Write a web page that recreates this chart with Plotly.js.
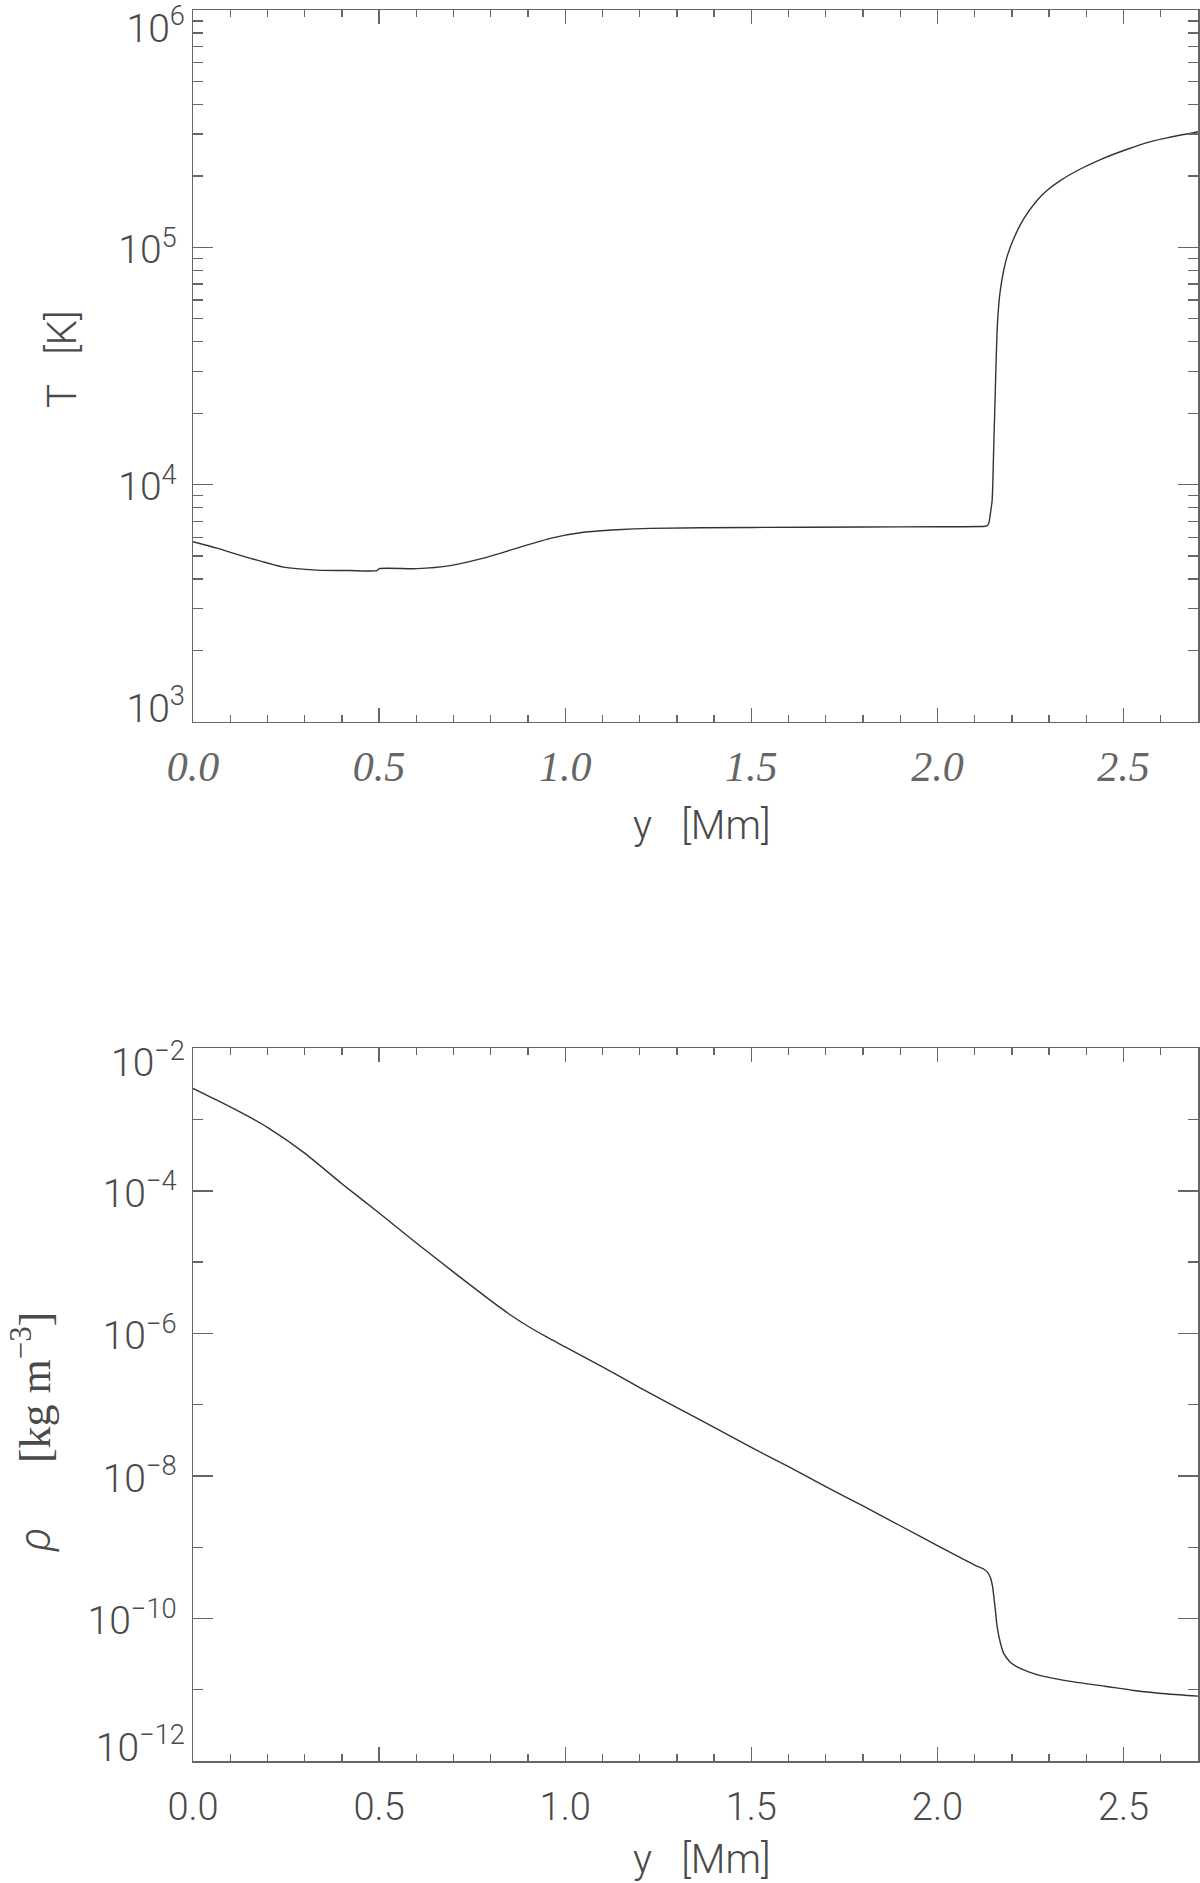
<!DOCTYPE html>
<html>
<head>
<meta charset="utf-8">
<script src="https://cdn.plot.ly/plotly-3.0.1.min.js"></script>
<style>html,body{margin:0;padding:0;background:#fff;}</style>
</head>
<body>
<div id="chart" style="width:1200px;height:1883px;"></div>
<script>
// ---- Data ----
// Temperature profile T(y), y in Mm, T in K
const yT = [0, 0.064, 0.153, 0.243, 0.332, 0.420, 0.494, 0.50, 0.601, 0.691, 0.780, 0.870, 0.960, 1.049, 1.139, 1.228, 1.5, 1.8, 2.0, 2.12, 2.128, 2.134, 2.138, 2.142, 2.147, 2.151, 2.156, 2.160, 2.165, 2.169, 2.178, 2.187, 2.205, 2.232, 2.268, 2.295, 2.331, 2.384, 2.438, 2.510, 2.573, 2.62, 2.70];
const temperature = [5750, 5400, 4900, 4490, 4365, 4345, 4340, 4425, 4425, 4560, 4900, 5400, 5940, 6300, 6455, 6545, 6600, 6630, 6650, 6660, 6680, 6720, 6870, 7500, 8610, 14000, 26700, 43400, 58000, 66100, 80000, 91400, 109000, 132000, 158000, 174000, 191600, 213800, 234400, 259000, 279000, 290000, 307000];

// Density profile rho(y), y in Mm, rho in kg m^-3
const yRho = [0, 0.05, 0.1, 0.15, 0.2, 0.3, 0.4, 0.5, 0.6, 0.7, 0.8, 0.85, 0.9, 0.95, 1.0, 1.1, 1.2, 1.3, 1.4, 1.5, 1.6, 1.7, 1.8, 1.9, 2.0, 2.1, 2.125, 2.134, 2.142, 2.148, 2.152, 2.156, 2.160, 2.168, 2.178, 2.195, 2.214, 2.245, 2.277, 2.366, 2.45, 2.528, 2.62, 2.70];
const density = [2.74e-3, 2.04e-3, 1.51e-3, 1.10e-3, 7.76e-4, 3.39e-4, 1.26e-4, 4.90e-5, 1.86e-5, 7.24e-6, 2.88e-6, 1.86e-6, 1.26e-6, 8.91e-7, 6.46e-7, 3.39e-7, 1.74e-7, 9.12e-8, 4.79e-8, 2.51e-8, 1.35e-8, 7.08e-9, 3.80e-9, 2.00e-9, 1.05e-9, 5.62e-10, 4.90e-10, 4.47e-10, 3.80e-10, 2.82e-10, 1.91e-10, 1.26e-10, 7.94e-11, 4.79e-11, 3.24e-11, 2.45e-11, 2.09e-11, 1.78e-11, 1.58e-11, 1.29e-11, 1.12e-11, 9.77e-12, 8.71e-12, 8.13e-12];

// Tick labels
const xTickVals = [0, 0.5, 1.0, 1.5, 2.0, 2.5];
const xTickText = ['0.0', '0.5', '1.0', '1.5', '2.0', '2.5'];

const tTickVals = [1e3, 1e4, 1e5, 1e6];
const tTickText = ['', '10<sup>4</sup>', '10<sup>5</sup>', ''];
const tTopVals = [1e6];
const tTopText = ['10<sup>6</sup>'];
const tBottomVals = [1e3];
const tBottomText = ['10<sup>3</sup>'];
const tMinorVals = [2e3,3e3,4e3,5e3,6e3,7e3,8e3,9e3, 2e4,3e4,4e4,5e4,6e4,7e4,8e4,9e4, 2e5,3e5,4e5,5e5,6e5,7e5,8e5,9e5];

const rhoTickVals = [1e-12, 1e-10, 1e-8, 1e-6, 1e-4, 1e-2];
const rhoTickText = ['', '10<sup>\u221210</sup>', '10<sup>\u22128</sup>', '10<sup>\u22126</sup>', '10<sup>\u22124</sup>', ''];
const rhoTopVals = [1e-2];
const rhoTopText = ['10<sup>\u22122</sup>'];
const rhoBottomVals = [1e-12];
const rhoBottomText = ['10<sup>\u221212</sup>'];
const rhoMinorVals = [1e-11, 1e-9, 1e-7, 1e-5, 1e-3];

// Titles
const xTitle = 'y\u00A0\u00A0\u00A0[Mm]';
const tTitle = 'T\u00A0\u00A0\u00A0[K]';
const rhoTitle = '<i>\u03C1</i>\u00A0\u00A0\u00A0\u00A0\u00A0\u00A0<span style="font-family:\'Liberation Serif\', serif">[kg m<sup>\u22123</sup>]</span>';

// ---- Styling ----
const sans = 'Roboto, "Liberation Sans", Arial, sans-serif';
const axisCol = '#666';
const textCol = '#4a4a4a';
const yTickFont = {family: sans, size: 39, color: textCol, weight: 300};

function xAxis(anchor, tickfont, standoff) {
  return {
    anchor: anchor, domain: [0, 1], range: [0, 2.7],
    tickmode: 'array', tickvals: xTickVals, ticktext: xTickText,
    ticks: 'inside', ticklen: 14, tickwidth: 1.3, tickcolor: axisCol,
    showline: true, linecolor: axisCol, linewidth: 1.5, mirror: 'ticks',
    showgrid: false, zeroline: false,
    minor: {tick0: 0, dtick: 0.1, ticks: 'inside', ticklen: 7, tickwidth: 1.3, tickcolor: axisCol, showgrid: false},
    tickfont: tickfont, ticklabelstandoff: standoff
  };
}
function yAxis(anchor, domain, range, tv, tt, mv) {
  return {
    anchor: anchor, domain: domain, type: 'log', range: range,
    tickmode: 'array', tickvals: tv, ticktext: tt,
    ticks: 'inside', ticklen: 20, tickwidth: 1.3, tickcolor: axisCol,
    showline: true, linecolor: axisCol, linewidth: 1.5, mirror: 'ticks',
    showgrid: false, zeroline: false,
    minor: {tickmode: 'array', tickvals: mv, ticks: 'inside', ticklen: 10, tickwidth: 1.3, tickcolor: axisCol, showgrid: false},
    tickfont: yTickFont, ticklabelstandoff: 7, ticklabelshift: 2
  };
}
// label-only overlay axis, used for the edge labels that sit just inside the axis range
function yEdge(over, anchor, range, tv, tt, shift) {
  return {
    overlaying: over, anchor: anchor, side: 'left', type: 'log', range: range,
    tickmode: 'array', tickvals: tv, ticktext: tt,
    ticks: '', showline: false, showgrid: false, zeroline: false,
    tickfont: yTickFont, ticklabelstandoff: 7, ticklabelshift: shift,
    ticklabeloverflow: 'allow'
  };
}
// empty placeholder trace so that each label-only axis is drawn
function holder(xa, ya) {
  return {x: [null], y: [null], xaxis: xa, yaxis: ya, mode: 'lines', hoverinfo: 'skip', showlegend: false};
}

const lineStyle = {color: '#333', width: 1.4, shape: 'spline', smoothing: 0.6};
const traces = [
  {x: yT, y: temperature, xaxis: 'x', yaxis: 'y', mode: 'lines', line: lineStyle, hoverinfo: 'skip'},
  {x: yRho, y: density, xaxis: 'x2', yaxis: 'y2', mode: 'lines', line: lineStyle, hoverinfo: 'skip'},
  holder('x', 'y3'), holder('x', 'y4'), holder('x2', 'y5'), holder('x2', 'y6')
];

const layout = {
  width: 1200, height: 1883,
  margin: {l: 193, r: 2, t: 10, b: 122},
  paper_bgcolor: '#fff', plot_bgcolor: '#fff', showlegend: false,
  xaxis: xAxis('y', {family: '"Liberation Serif", serif', style: 'italic', size: 42, color: '#666'}, 7),
  yaxis: yAxis('x', [0.5934, 1], [3, 6], tTickVals, tTickText, tMinorVals),
  yaxis3: yEdge('y', 'x', [3, 6], tTopVals, tTopText, 18),
  yaxis4: yEdge('y', 'x', [3, 6], tBottomVals, tBottomText, -14),
  xaxis2: xAxis('y2', {family: sans, size: 38, color: textCol, weight: 300}, 12),
  yaxis2: yAxis('x2', [0, 0.4070], [-12, -2], rhoTickVals, rhoTickText, rhoMinorVals),
  yaxis5: yEdge('y2', 'x2', [-12, -2], rhoTopVals, rhoTopText, 14),
  yaxis6: yEdge('y2', 'x2', [-12, -2], rhoBottomVals, rhoBottomText, -14),
  annotations: [
    {text: xTitle, xref: 'paper', yref: 'paper', x: 0.5065, y: 0.5340, xanchor: 'center', yanchor: 'middle', showarrow: false, font: {family: sans, size: 40, color: textCol, weight: 300}},
    {text: xTitle, xref: 'paper', yref: 'paper', x: 0.5065, y: -0.0560, xanchor: 'center', yanchor: 'middle', showarrow: false, font: {family: sans, size: 40, color: textCol, weight: 300}},
    {text: tTitle, xref: 'paper', yref: 'paper', x: -0.1294, y: 0.8007, xanchor: 'center', yanchor: 'middle', textangle: -90, showarrow: false, font: {family: sans, size: 40, color: textCol, weight: 300}},
    {text: rhoTitle, xref: 'paper', yref: 'paper', x: -0.160, y: 0.1879, xanchor: 'center', yanchor: 'middle', textangle: -90, showarrow: false, font: {family: sans, size: 44, color: textCol, weight: 300}}
  ]
};

Plotly.newPlot('chart', traces, layout, {staticPlot: true, displayModeBar: false});
</script>
</body>
</html>
